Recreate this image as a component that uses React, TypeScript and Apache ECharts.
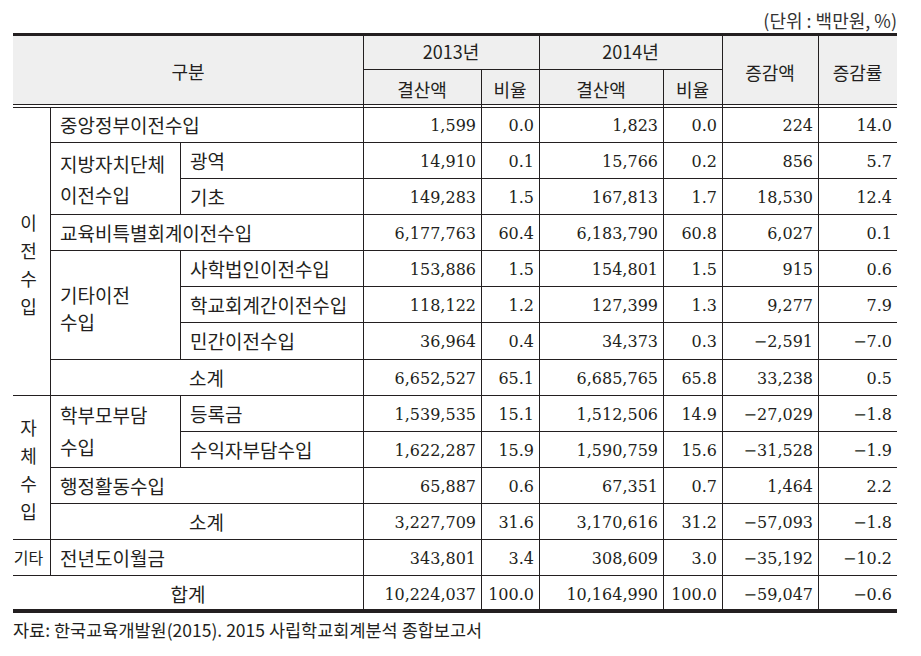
import React, { useEffect, useRef } from "react";
import * as echarts from "echarts";

// ---------- data ----------
const items = [
  "중앙정부이전수입", "광역", "기초", "교육비특별회계이전수입", "사학법인이전수입",
  "학교회계간이전수입", "민간이전수입", "소계", "등록금", "수익자부담수입",
  "행정활동수입", "소계", "전년도이월금", "합계",
];
const itemKind = [
  "wide", "detail", "detail", "wide", "detail", "detail", "detail", "subtotal",
  "detail", "detail", "wide", "subtotal", "wide", "total",
];
const amount2013 = [1599, 14910, 149283, 6177763, 153886, 118122, 36964, 6652527, 1539535, 1622287, 65887, 3227709, 343801, 10224037];
const ratio2013 = [0.0, 0.1, 1.5, 60.4, 1.5, 1.2, 0.4, 65.1, 15.1, 15.9, 0.6, 31.6, 3.4, 100.0];
const amount2014 = [1823, 15766, 167813, 6183790, 154801, 127399, 34373, 6685765, 1512506, 1590759, 67351, 3170616, 308609, 10164990];
const ratio2014 = [0.0, 0.2, 1.7, 60.8, 1.5, 1.3, 0.3, 65.8, 14.9, 15.6, 0.7, 31.2, 3.0, 100.0];
const changeAmount = [224, 856, 18530, 6027, 915, 9277, -2591, 33238, -27029, -31528, 1464, -57093, -35192, -59047];
const changeRate = [14.0, 5.7, 12.4, 0.1, 0.6, 7.9, -7.0, 0.5, -1.8, -1.9, 2.2, -1.8, -10.2, -0.6];

const groupLabels = ["이\n전\n수\n입", "자\n체\n수\n입", "기타"];
const groupRows = [[0, 7], [8, 11], [12, 12]];
const subLabels = ["지방자치단체\n이전수입", "기타이전\n수입", "학부모부담\n수입"];
const subRows = [[1, 2], [4, 6], [8, 9]];

const headerFirst = "구분";
const headerYears = ["2013년", "2014년"];
const headerSub = ["결산액", "비율"];
const headerOther = ["증감액", "증감률"];
const unitText = "(단위 : 백만원, %)";
const sourceText = "자료: 한국교육개발원(2015). 2015 사립학교회계분석 종합보고서";

// ---------- layout ----------
const W = 921;
const H = 656;
const COLS = [13, 50, 180, 363, 481, 539, 663, 722, 818, 897];
const HEAD = [35, 69, 105];
const ROWS = [107, 142, 178, 214, 250, 286, 322, 359, 395, 431, 467, 503, 539, 575, 611];
const groupDy = [13, 2, 0];
const groupLH = [28, 28, 18];
const groupSize = [18, 18, 16];
const subLH = [31, 27, 32];
const subDy = [1, 3, -1];
const BODY = 19;
const HEADSZ = 18;

const INK = "#231f20";
const KR = "'Noto Sans CJK KR', 'Noto Sans', sans-serif";
const NUM = "'DejaVu Serif', serif";

const fmtInt = (v: number) => (v < 0 ? "−" : "") + Math.abs(v).toLocaleString("en-US");
const fmtPct = (v: number) => (v < 0 ? "−" : "") + Math.abs(v).toFixed(1);

type Cell = {
  x0: number; x1: number; y0: number; y1: number; text: string;
  align: "left" | "center" | "right"; font: string; size: number;
  lh?: number; dx?: number; dy?: number;
};

function buildCells(): Cell[] {
  const cells: Cell[] = [];
  cells.push({ x0: COLS[0], x1: COLS[3], y0: HEAD[0], y1: HEAD[2], text: headerFirst, align: "center", font: KR, size: HEADSZ, dy: 1 });
  headerYears.forEach((t, i) => {
    const c0 = 3 + i * 2;
    cells.push({ x0: COLS[c0], x1: COLS[c0 + 2], y0: HEAD[0], y1: HEAD[1], text: t, align: "center", font: KR, size: HEADSZ, dy: -1 });
    headerSub.forEach((s, j) => {
      cells.push({ x0: COLS[c0 + j], x1: COLS[c0 + j + 1], y0: HEAD[1], y1: HEAD[2], text: s, align: "center", font: KR, size: HEADSZ, dy: 2 });
    });
  });
  headerOther.forEach((t, i) => {
    cells.push({ x0: COLS[7 + i], x1: COLS[8 + i], y0: HEAD[0], y1: HEAD[2], text: t, align: "center", font: KR, size: HEADSZ, dy: 2 });
  });
  groupLabels.forEach((t, i) => {
    const [s, e] = groupRows[i];
    cells.push({ x0: COLS[0], x1: COLS[1], y0: ROWS[s], y1: ROWS[e + 1], text: t, align: "center", font: KR, size: groupSize[i], lh: groupLH[i], dx: -3, dy: groupDy[i] });
  });
  subLabels.forEach((t, i) => {
    const [s, e] = subRows[i];
    cells.push({ x0: COLS[1], x1: COLS[2], y0: ROWS[s], y1: ROWS[e + 1], text: t, align: "left", font: KR, size: BODY, lh: subLH[i], dy: subDy[i] });
  });
  items.forEach((t, r) => {
    const k = itemKind[r];
    const y0 = ROWS[r];
    const y1 = ROWS[r + 1];
    if (k === "wide") cells.push({ x0: COLS[1], x1: COLS[3], y0, y1, text: t, align: "left", font: KR, size: BODY });
    else if (k === "detail") cells.push({ x0: COLS[2], x1: COLS[3], y0, y1, text: t, align: "left", font: KR, size: BODY });
    else if (k === "subtotal") cells.push({ x0: COLS[1], x1: COLS[3], y0, y1, text: t, align: "center", font: KR, size: BODY });
    else cells.push({ x0: COLS[0], x1: COLS[3], y0, y1, text: t, align: "center", font: KR, size: BODY });
    const vals = [
      fmtInt(amount2013[r]), fmtPct(ratio2013[r]), fmtInt(amount2014[r]),
      fmtPct(ratio2014[r]), fmtInt(changeAmount[r]), fmtPct(changeRate[r]),
    ];
    vals.forEach((v, j) => {
      cells.push({ x0: COLS[3 + j], x1: COLS[4 + j], y0, y1, text: v, align: "right", font: NUM, size: 16, dy: 1 });
    });
  });
  return cells;
}

type Seg = [number, number, number, number, number];

function buildLines(): Seg[] {
  const L: Seg[] = [];
  const right = COLS[9];
  L.push([COLS[0], 34.5, right, 34.5, 3]);
  L.push([COLS[0], ROWS[14], right, ROWS[14], 4]);
  L.push([COLS[3], HEAD[1] + 0.5, COLS[7], HEAD[1] + 0.5, 1]);
  L.push([COLS[0], 104.5, right, 104.5, 1]);
  L.push([COLS[0], 107.5, right, 107.5, 1]);
  const groupEnds = groupRows.map((g) => g[1]);
  const inSub = new Set<number>();
  subRows.forEach(([s, e]) => { for (let r = s; r < e; r++) inSub.add(r); });
  for (let r = 0; r < 13; r++) {
    const x0 = groupEnds.includes(r) ? COLS[0] : inSub.has(r) ? COLS[2] : COLS[1];
    L.push([x0, ROWS[r + 1] + 0.5, right, ROWS[r + 1] + 0.5, 1]);
  }
  L.push([COLS[1] + 0.5, ROWS[0], COLS[1] + 0.5, ROWS[13], 1]);
  subRows.forEach(([s, e]) => L.push([COLS[2] + 0.5, ROWS[s], COLS[2] + 0.5, ROWS[e + 1], 1]));
  [3, 5, 7, 8].forEach((c) => L.push([COLS[c] + 0.5, HEAD[0], COLS[c] + 0.5, ROWS[14], 1]));
  [4, 6].forEach((c) => L.push([COLS[c] + 0.5, HEAD[1], COLS[c] + 0.5, ROWS[14], 1]));
  return L;
}

export default function App() {
  const ref = useRef<HTMLDivElement>(null);
  useEffect(() => {
    if (!ref.current) return;
    const chart = echarts.init(ref.current, null, { renderer: "svg" });
    const cells = buildCells();
    const lines = buildLines();
    const option: any = {
      animation: false,
      backgroundColor: "#ffffff",
      grid: { left: 0, top: 0, right: 0, bottom: 0 },
      xAxis: { type: "value", min: 0, max: W, show: false },
      yAxis: { type: "value", min: 0, max: H, inverse: true, show: false },
      graphic: [
        {
          type: "text", x: COLS[9], y: 20,
          style: {
            text: unitText, fill: "#333", font: `18px ${KR}`,
            textAlign: "right", align: "right", textVerticalAlign: "middle", verticalAlign: "middle",
          },
        },
        {
          type: "text", x: COLS[0], y: 629,
          style: {
            text: sourceText, fill: INK, font: `17.5px ${KR}`,
            textAlign: "left", align: "left", textVerticalAlign: "middle", verticalAlign: "middle",
          },
        },
      ],
      series: [
        {
          type: "custom", z: 1, silent: true, clip: false,
          data: [[COLS[0], HEAD[0], COLS[9], 104]],
          encode: { x: [0, 2], y: [1, 3] },
          renderItem: (_p: any, api: any) => {
            const a = api.coord([api.value(0), api.value(1)]);
            const b = api.coord([api.value(2), api.value(3)]);
            return { type: "rect", shape: { x: a[0], y: a[1], width: b[0] - a[0], height: b[1] - a[1] }, style: { fill: "#efefef" } };
          },
        },
        {
          type: "custom", z: 3, silent: true, clip: false,
          data: lines,
          encode: { x: [0, 2], y: [1, 3] },
          renderItem: (_p: any, api: any) => {
            const a = api.coord([api.value(0), api.value(1)]);
            const b = api.coord([api.value(2), api.value(3)]);
            return { type: "line", shape: { x1: a[0], y1: a[1], x2: b[0], y2: b[1] }, style: { stroke: INK, lineWidth: api.value(4) } };
          },
        },
        {
          type: "custom", z: 4, silent: true, clip: false,
          data: cells.map((c) => [c.x0, c.y0, c.x1, c.y1]),
          encode: { x: [0, 2], y: [1, 3] },
          renderItem: (p: any, api: any) => {
            const c = cells[p.dataIndex];
            const a = api.coord([c.x0, c.y0]);
            const b = api.coord([c.x1, c.y1]);
            const pad = c.align === "right" ? 5 : 10;
            let x = (a[0] + b[0]) / 2;
            if (c.align === "left") x = a[0] + pad;
            if (c.align === "right") x = b[0] - pad;
            x += c.dx || 0;
            const y = (a[1] + b[1]) / 2 + (c.dy || 0);
            return {
              type: "text", x, y,
              style: {
                text: c.text, fill: INK, fontSize: c.size, fontFamily: c.font,
                align: c.align, textAlign: c.align, verticalAlign: "middle", textVerticalAlign: "middle",
                lineHeight: c.lh || Math.round(c.size * 1.3),
              },
            };
          },
        },
      ],
    };
    chart.setOption(option);
    return () => chart.dispose();
  }, []);
  return <div ref={ref} style={{ position: "absolute", left: 0, top: 0, width: W, height: H }} />;
}
